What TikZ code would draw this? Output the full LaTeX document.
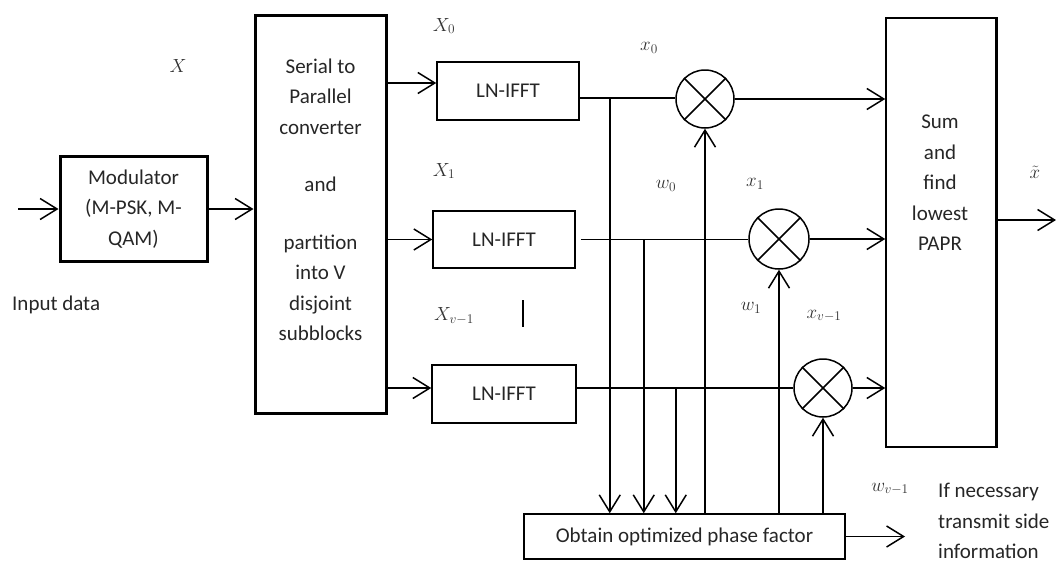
\RequirePackage{fix-cm}
\documentclass[tikz,border=0pt]{standalone}
\usepackage[no-math]{fontspec}
\setmainfont{Carlito}
\usepackage{tikz}
\usetikzlibrary{arrows.meta, positioning, calc}
\colorlet{ink}{black!85}
\colorlet{lbl}{black!80}
\newcommand{\txt}{\fontsize{21}{30.5}\selectfont}
\newcommand{\lab}{\fontsize{19}{19}\selectfont}
\tikzset{
    block/.style={draw, line width=1.5pt, inner sep=0pt, font=\txt, text=ink},
    thickblock/.style={block, line width=3pt},
    mult/.style={draw, circle, line width=1.5pt, minimum size=58pt, inner sep=0pt},
    wire/.style={line width=1.5pt},
    arrow/.style={wire, -{Straight Barb[length=17pt, width=21pt]}},
    caption/.style={font=\txt, text=ink, align=center, inner sep=0pt},
    sym/.style={font=\lab, text=lbl, inner sep=0pt},
}

\begin{document}
\begin{tikzpicture}[x=1pt, y=-1pt]
        \useasboundingbox (0,0) rectangle (1056,562);
        % Modulator and serial to parallel
        \node (mod) [thickblock, minimum width=147pt, minimum height=105pt, align=center] at (133.5,209) {Modulator\\(M-PSK, M-\\QAM)};
        \node (sp) [thickblock, minimum width=131pt, minimum height=398pt] at (320.5,214) {};
        \node (sptext) [caption] at (320.5,200) {Serial to\\Parallel\\converter\\[27pt]and\\[27pt]partition\\into V\\disjoint\\subblocks};
        % LN-IFFT branches
        \node (fft1) [block, minimum width=142pt, minimum height=58pt] at (508,91) {LN-IFFT};
        \node (fft2) [block, minimum width=142pt, minimum height=57pt] at (504,239.5) {LN-IFFT};
        \node (fft3) [block, minimum width=144pt, minimum height=58pt] at (504,394) {LN-IFFT};
        % Multipliers
        \node (m1) [mult] at (705,99) {};
        \node (m2) [mult, minimum size=60pt] at (779,239) {};
        \node (m3) [mult] at (823,388) {};
        \foreach \m in {m1,m2,m3} {
            \draw[wire] (\m.north west) -- (\m.south east);
            \draw[wire] (\m.north east) -- (\m.south west);
        }
        % Sum and phase factor optimisation
        \node (sum) [block, minimum width=110pt, minimum height=429pt] at (941,232.5) {};
        \draw[line width=3pt] (sum.north east) -- (sum.south east);
        \node (sumtext) [caption] at (940,183) {Sum\\and\\find\\lowest\\PAPR};
        \node (opt) [block, minimum width=321pt, minimum height=45pt] at (684.5,536.5) {Obtain optimized phase factor};

        % helper points
        \coordinate (xin) at (18,209);
        \coordinate (in1) at ([yshift=8pt]fft1.west);
        \coordinate (out1) at ([yshift=-7pt]fft1.east);
        \coordinate (in3) at ([yshift=6pt]fft3.west);
        \coordinate (out3) at ([yshift=6pt]fft3.east);
        \coordinate (tapA) at ($(out1)+(30,0)$);
        \coordinate (tapB) at ($(fft2.east)+(68,0)$);
        \coordinate (tapC) at ($(out3)+(99,0)$);
        \coordinate (side) at (905,536.5);
        \coordinate (xout) at (1056,220);

        % links
        \draw[arrow] (xin) -- (mod.west);
        \draw[arrow] (mod.east) -- (mod.east -| sp.west);
        \draw[arrow] (in1 -| sp.east) -- (in1);
        \draw[arrow] (fft2.west -| sp.east) -- (fft2.west);
        \draw[arrow] (in3 -| sp.east) -- (in3);
        \draw[wire] (out1) -- (out1 -| m1.west);
        \draw[wire] ([xshift=5pt]fft2.east) -- (fft2.east -| m2.west);
        \draw[wire] (out3) -- (m3.west);
        \draw[arrow] (m1.east) -- (m1.east -| sum.west);
        \draw[arrow] (m2.east) -- (m2.east -| sum.west);
        \draw[arrow] (m3.east) -- (m3.east -| sum.west);
        \draw[arrow] (xout -| sum.east) -- (xout);
        % taps to the optimiser
        \draw[arrow] (tapA) -- (tapA |- opt.north);
        \draw[arrow] (tapB) -- (tapB |- opt.north);
        \draw[arrow] (tapC) -- (tapC |- opt.north);
        % phase factors back to the multipliers
        \draw[arrow] (m1.south |- opt.north) -- (m1.south);
        \draw[arrow] (m2.south |- opt.north) -- (m2.south);
        \draw[arrow] (m3.south |- opt.north) -- (m3.south);
        \draw[arrow] (opt.east) -- (side);

        % Labels
        \node (lX) [sym] at (178,66) {$X$};
        \node (lX0) [sym] at (444,26) {$X_0$};
        \node (lX1) [sym] at (444,171) {$X_1$};
        \node (lXv) [sym] at (454,316) {$X_{v-1}$};
        \draw[wire] (523,300) -- (523,327);
        \node (lx0) [sym] at (649,48) {$x_0$};
        \node (lw0) [sym] at (666,186) {$w_0$};
        \node (lx1) [sym] at (755,184) {$x_1$};
        \node (lw1) [sym] at (751,308) {$w_1$};
        \node (lxv) [sym] at (824,316) {$x_{v-1}$};
        \node (lwv) [sym] at (890,489) {$w_{v-1}$};
        \node (lxt) [sym] at (1035,172) {$\tilde{x}$};
        \node (indata) [caption, anchor=west] at (12,305) {Input data};
        \node (sideinfo) [caption, align=left, anchor=west] at (938,521) {If necessary\\transmit side\\information};
    \end{tikzpicture}
\end{document}
